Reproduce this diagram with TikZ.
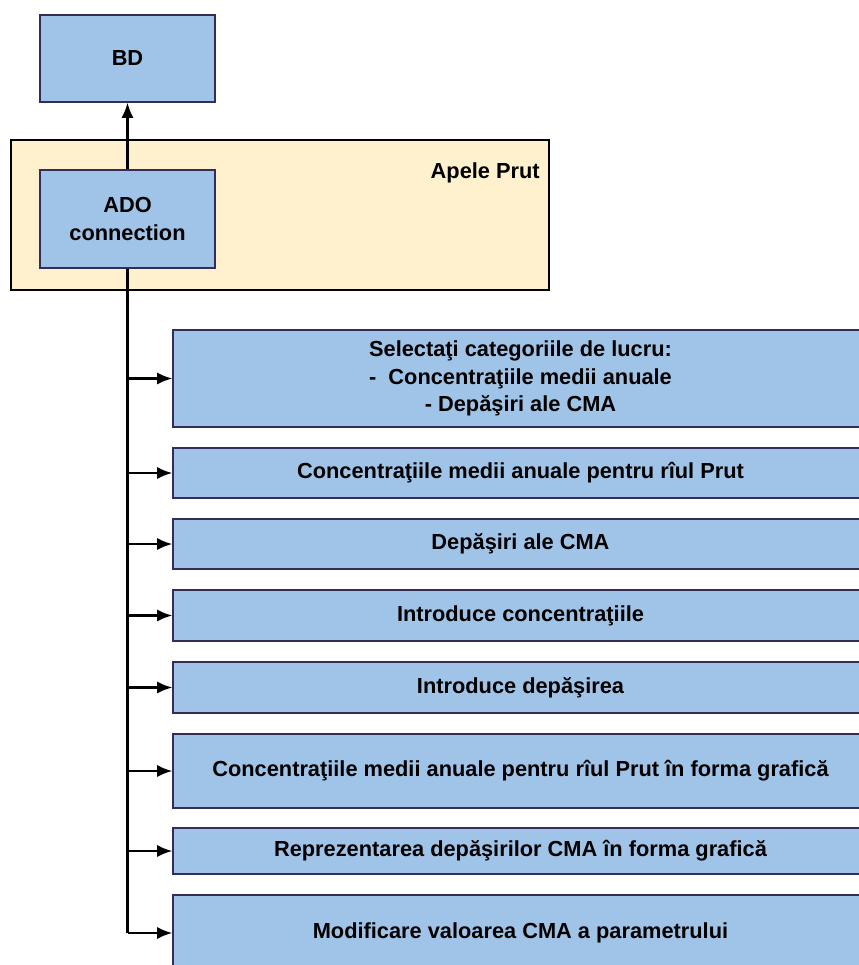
\documentclass[tikz,border=0pt]{standalone}
\usepackage{fontspec}
\setmainfont{Liberation Sans}
\usepackage{tikz}
\usetikzlibrary{arrows.meta}

\definecolor{boxblue}{RGB}{160,196,232}
\definecolor{boxedge}{RGB}{50,45,90}
\definecolor{zonefill}{RGB}{255,241,206}

\tikzset{
  blk/.style={draw=boxedge, line width=0.9pt, fill=boxblue, align=center,
    font=\fontsize{15.5}{19.5}\selectfont\bfseries},
  zone/.style={draw=black, line width=1.1pt, fill=zonefill},
  lnk/.style={-{Latex[length=3.8mm,width=3mm]}, line width=1.5pt},
}

\begin{document}
\begin{tikzpicture}
\clip (0,0) rectangle (21.475,-24.125);

\node[zone, minimum width=13.45cm, minimum height=3.75cm] (prut) at (7.0,-5.375) {};
\node[anchor=north east, font=\fontsize{15.5}{18}\selectfont\bfseries, inner sep=0pt] (prutlbl) at (13.5,-4.05) {Apele Prut};

\node[blk, minimum width=4.375cm, minimum height=2.175cm] (bd) at (3.1875,-1.4625) {BD};
\node[blk, minimum width=4.375cm, minimum height=2.45cm, font=\fontsize{15.5}{20.5}\selectfont\bfseries] (ado) at (3.1875,-5.475) {ADO\\connection};

\node[blk, minimum width=17.375cm, minimum height=2.425cm] (s1) at (13.0125,-9.4625) {Selectaţi categoriile de lucru:\\-\ \ Concentraţiile medii anuale\\- Depăşiri ale CMA};
\node[blk, minimum width=17.375cm, minimum height=1.25cm] (s2) at (13.0125,-11.825) {Concentraţiile medii anuale pentru rîul Prut};
\node[blk, minimum width=17.375cm, minimum height=1.25cm] (s3) at (13.0125,-13.6) {Depăşiri ale CMA};
\node[blk, minimum width=17.375cm, minimum height=1.275cm] (s4) at (13.0125,-15.3875) {Introduce concentraţiile};
\node[blk, minimum width=17.375cm, minimum height=1.275cm] (s5) at (13.0125,-17.1875) {Introduce depăşirea};
\node[blk, minimum width=17.375cm, minimum height=1.85cm] (s6) at (13.0125,-19.275) {Concentraţiile medii anuale pentru rîul Prut în forma grafică};
\node[blk, minimum width=17.375cm, minimum height=1.15cm] (s7) at (13.0125,-21.275) {Reprezentarea depăşirilor CMA în forma grafică};
\node[blk, minimum width=17.375cm, minimum height=1.9cm] (s8) at (13.0125,-23.325) {Modificare valoarea CMA a parametrului};

\draw[lnk] (ado.north) -- (bd.south);
\draw[line width=2.4pt] (ado.south) -- (ado.south |- s8.west);

\draw[lnk] (ado.south |- s1.west) -- (s1.west);
\draw[lnk] (ado.south |- s2.west) -- (s2.west);
\draw[lnk] (ado.south |- s3.west) -- (s3.west);
\draw[lnk] (ado.south |- s4.west) -- (s4.west);
\draw[lnk] (ado.south |- s5.west) -- (s5.west);
\draw[lnk] (ado.south |- s6.west) -- (s6.west);
\draw[lnk] (ado.south |- s7.west) -- (s7.west);
\draw[lnk] (ado.south |- s8.west) -- (s8.west);
\end{tikzpicture}
\end{document}
